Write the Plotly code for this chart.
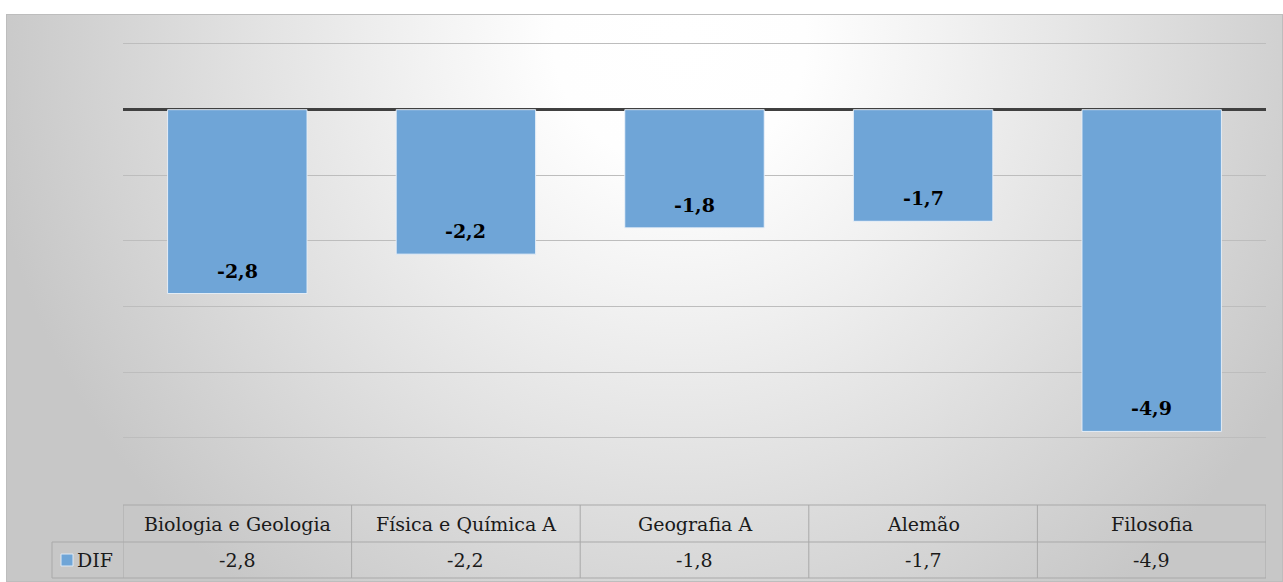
import base64
import plotly.graph_objects as go

categories = ["Biologia e Geologia", "Física e Química A", "Geografia A", "Alemão", "Filosofia"]
values = [-2.8, -2.2, -1.8, -1.7, -4.9]
series_name = "DIF"
labels = [f"{v:.1f}".replace(".", ",") for v in values]

W, H = 1283, 582
BAR = "#6fa5d7"
FONT = "DejaVu Serif"

# plot area in pixels
x0p, x1p = 123, 1266
y_top, y_bot = 44, 438   # pixel rows of value 1 and -5
v_top, v_bot = 1.0, -5.0
pad = 0.2
ppu = (y_bot - y_top) / (v_top - v_bot)

def px(x):
    return x / W

def py(y):
    return 1 - y / H

svg = f'''<svg xmlns="http://www.w3.org/2000/svg" width="1277" height="568" viewBox="0 0 1277 568">
<defs>
<radialGradient id="g" gradientUnits="userSpaceOnUse" cx="674" cy="26" r="700">
<stop offset="0" stop-color="#ffffff"/>
<stop offset="0.18" stop-color="#fefefe"/>
<stop offset="0.37" stop-color="#f2f2f2"/>
<stop offset="0.61" stop-color="#e2e2e2"/>
<stop offset="1" stop-color="#c7c7c7"/>
</radialGradient>
</defs>
<rect x="0.5" y="0.5" width="1276" height="567" fill="url(#g)" stroke="#bdbdbd" stroke-width="1"/>
</svg>'''
src = "data:image/svg+xml;base64," + base64.b64encode(svg.encode()).decode()

fig = go.Figure()
fig.add_trace(go.Bar(
    x=categories, y=values, name=series_name, width=0.61,
    marker=dict(color=BAR, line=dict(color="rgba(235,242,250,0.9)", width=1)),
    showlegend=False, hoverinfo="skip",
))

# data labels
for c, v, t in zip(categories, values, labels):
    fig.add_annotation(x=c, y=v, xref="x", yref="y", text=f"<b>{t}</b>", showarrow=False,
                       yshift=23, yanchor="middle",
                       font=dict(family=FONT, size=19, color="#000000"))

line_col = "#a9a9a9"
t_top, t_mid, t_bot = 505, 542, 578
n = len(categories)
shapes = []
for yy in (t_top, t_mid, t_bot):
    shapes.append(dict(type="line", xref="x", yref="paper", x0=-0.5, x1=n - 0.5,
                       y0=py(yy), y1=py(yy), line=dict(color=line_col, width=1)))
for yy in (t_mid, t_bot):
    shapes.append(dict(type="line", xref="paper", yref="paper", x0=px(52), x1=px(x0p),
                       y0=py(yy), y1=py(yy), line=dict(color=line_col, width=1)))
shapes.append(dict(type="line", xref="paper", yref="paper", x0=px(52), x1=px(52),
                   y0=py(t_mid), y1=py(t_bot), line=dict(color=line_col, width=1)))
for i in range(n + 1):
    shapes.append(dict(type="line", xref="x", yref="paper", x0=i - 0.5, x1=i - 0.5,
                       y0=py(t_top), y1=py(t_bot), line=dict(color=line_col, width=1)))
# legend key
shapes.append(dict(type="rect", xref="paper", yref="paper", x0=px(61), x1=px(73),
                   y0=py(566), y1=py(554), fillcolor=BAR, line=dict(color="#dfe9f4", width=1)))

for c, t in zip(categories, labels):
    fig.add_annotation(x=c, xref="x", y=py((t_top + t_mid) / 2), yref="paper", text=c,
                       showarrow=False, yanchor="middle",
                       font=dict(family=FONT, size=19, color="#1a1a1a"))
    fig.add_annotation(x=c, xref="x", y=py((t_mid + t_bot) / 2), yref="paper", text=t,
                       showarrow=False, yanchor="middle",
                       font=dict(family=FONT, size=19, color="#1a1a1a"))
fig.add_annotation(x=px(75), xref="paper", y=py((t_mid + t_bot) / 2), yref="paper",
                   text=series_name, xanchor="left", yanchor="middle", showarrow=False,
                   font=dict(family=FONT, size=19, color="#1a1a1a"))

fig.update_layout(
    width=W, height=H, margin=dict(l=0, r=0, t=0, b=0),
    paper_bgcolor="#ffffff", plot_bgcolor="rgba(0,0,0,0)",
    images=[dict(source=src, xref="paper", yref="paper", x=px(6), y=py(14),
                 sizex=(W - 6) / W, sizey=(H - 14) / H, xanchor="left", yanchor="top",
                 sizing="stretch", layer="below")],
    shapes=shapes,
    xaxis=dict(domain=[px(x0p), px(x1p)], range=[-0.5, n - 0.5], showticklabels=False,
               showgrid=False, zeroline=False, ticks="", fixedrange=True),
    yaxis=dict(domain=[py(y_bot + pad * ppu), py(y_top - pad * ppu)],
               range=[v_bot - pad, v_top + pad], tickvals=[1, -1, -2, -3, -4, -5],
               showticklabels=False, showgrid=True, gridcolor="#bdbdbd", gridwidth=1,
               zeroline=True, zerolinecolor="#404040", zerolinewidth=3, ticks="",
               fixedrange=True),
    showlegend=False,
)

fig.write_html("out.html", config={"displayModeBar": False, "staticPlot": True},
               post_script="document.body.style.margin='0';document.body.style.overflow='hidden';")
